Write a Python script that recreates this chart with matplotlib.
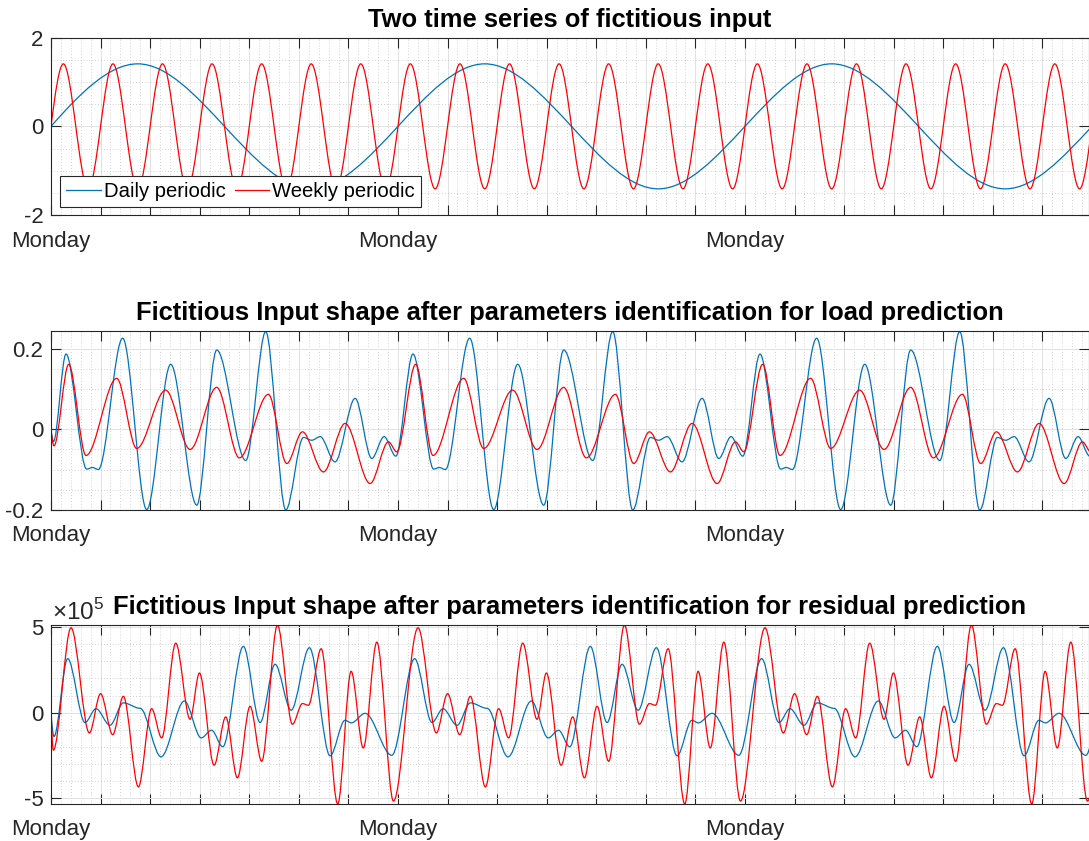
import numpy as np
import matplotlib
matplotlib.use('Agg')
import matplotlib.pyplot as plt
from matplotlib.path import Path
from matplotlib.patches import PathPatch
from matplotlib.lines import Line2D
from matplotlib.ticker import MultipleLocator, FixedLocator, FixedFormatter

plt.rcParams['font.family'] = ['Liberation Sans', 'DejaVu Sans']
plt.rcParams['axes.unicode_minus'] = False
plt.rcParams['mathtext.fontset'] = 'custom'
plt.rcParams['mathtext.rm'] = 'Liberation Sans'

# %% data (x in days from the first Monday)
x_end = 20.93
day_ticks = list(range(21))
day_labels = ['Monday' if d % 7 == 0 else '' for d in day_ticks]
legend_labels = ['Daily periodic', 'Weekly periodic']

# top panel: extrema over one period, curves start at 0
top_blue_period = 7
top_blue_x = [1.75, 5.25]
top_blue_y = [1.41, -1.41]
top_red_period = 1
top_red_x = [0.25, 0.75]
top_red_y = [1.41, -1.41]

# middle panel (load prediction): start transient + one week of extrema
load_blue_start_x = [0.0, 0.05]
load_blue_start_y = [0.0, -0.03]
load_blue_x = [0.303, 0.72, 0.834, 0.955, 1.446, 1.931, 2.415, 2.94, 3.343, 3.929,
               4.332, 4.736, 5.093, 5.26, 5.43, 5.73, 6.135, 6.471, 6.72, 6.956]
load_blue_y = [0.188, -0.099, -0.095, -0.1, 0.2275, -0.2, 0.1625, -0.189, 0.198, -0.0775,
               0.244, -0.201, -0.02, -0.027, -0.018, -0.081, 0.0775, -0.0725, -0.018, -0.0667]
load_red_start_x = [0.0, 0.06]
load_red_start_y = [0.0, -0.041]
load_red_x = [0.357, 0.706, 1.325, 1.729, 2.314, 2.805, 3.343, 3.80, 4.386, 4.756,
              5.072, 5.496, 5.933, 6.438, 6.808, 6.976]
load_red_y = [0.1625, -0.065, 0.1275, -0.0475, 0.098, -0.05, 0.105, -0.071, 0.0875, -0.085,
              -0.006, -0.106, 0.015, -0.135, -0.031, -0.056]

# bottom panel (residual prediction), values in units of 1e5
res_blue_start_x = [0.0, 0.06]
res_blue_start_y = [0.0, -1.4]
res_blue_x = [0.336, 0.686, 0.908, 1.19, 1.46, 1.8, 2.22, 2.69, 3.03, 3.24, 3.465,
              3.88, 4.218, 4.52, 4.844, 5.213, 5.63, 5.93, 6.06, 6.337, 6.875]
res_blue_y = [3.16, -0.58, 0.23, -0.74, 0.57, 0.25, -2.59, 0.68, -1.48, -1.03, -2.0,
              3.88, -0.58, 2.83, 0.14, 3.8, -2.53, -0.45, -0.6, -0.04, -2.5]
res_red_start_x = [0.0, 0.047]
res_red_start_y = [0.0, -2.2]
res_red_x = [0.404, 0.774, 1.0, 1.245, 1.46, 1.763, 2.03, 2.233, 2.516, 2.805, 2.994,
             3.29, 3.525, 3.76, 4.016, 4.25, 4.568, 4.87, 5.072, 5.193, 5.45, 5.785,
             6.055, 6.30, 6.573, 6.909]
res_red_y = [4.97, -1.19, 1.11, -1.29, 0.955, -4.35, 0.23, -1.48, 4.07, -0.39, 2.32,
             -3.08, -0.25, -3.82, 0.37, -2.85, 5.12, -0.68, 0.53, 0.43, 3.74, -5.35,
             2.42, -2.07, 4.13, -5.18]
res_scale = 1e5

blue = '#0072BD'
red = '#FF0000'
dark = '#262626'


# %%
def repeat_period(start_x, start_y, prof_x, prof_y, period):
    xs = list(start_x)
    ys = list(start_y)
    k = 0
    while k * period < x_end + period:
        xs += [x + k * period for x in prof_x]
        ys += list(prof_y)
        k += 1
    return np.array(xs), np.array(ys)


def smooth_path(xs, ys):
    # cubic segments with flat tangents at the read extrema
    verts = [(xs[0], ys[0])]
    codes = [Path.MOVETO]
    for i in range(len(xs) - 1):
        x0, y0, x1, y1 = xs[i], ys[i], xs[i + 1], ys[i + 1]
        dx = x1 - x0
        m0 = np.pi / 2 * (y1 - y0) / dx if i == 0 else 0.0
        verts += [(x0 + dx / 3, y0 + m0 * dx / 3), (x1 - dx / 3, y1), (x1, y1)]
        codes += [Path.CURVE4] * 3
    return Path(verts, codes)


def draw(ax, xs, ys, color):
    ax.add_patch(PathPatch(smooth_path(xs, ys), fill=False, edgecolor=color,
                           lw=0.9, joinstyle='round', capstyle='round'))


def style(ax, yticks, ylabels, yminor, ylim, title, xpad):
    ax.set_xlim(0, x_end)
    ax.set_ylim(*ylim)
    ax.xaxis.set_major_locator(FixedLocator(day_ticks))
    ax.xaxis.set_major_formatter(FixedFormatter(day_labels))
    ax.xaxis.set_minor_locator(MultipleLocator(0.2))
    ax.yaxis.set_major_locator(FixedLocator(yticks))
    ax.yaxis.set_major_formatter(FixedFormatter(ylabels))
    ax.yaxis.set_minor_locator(MultipleLocator(yminor))
    ax.grid(which='major', color='#e1e1e1', lw=0.7)
    ax.grid(which='minor', color='#c4c4c4', lw=0.6, ls=(0, (1, 2.5)))
    ax.set_axisbelow(True)
    ax.tick_params(which='major', direction='in', top=True, right=True, length=7.5,
                   width=0.8, color=dark, labelcolor=dark, labelsize=16)
    ax.tick_params(axis='x', which='major', pad=xpad)
    ax.tick_params(axis='y', which='major', pad=5.5)
    ax.tick_params(which='minor', length=0)
    for s in ax.spines.values():
        s.set_color(dark)
        s.set_linewidth(0.8)
    ax.set_title(title, fontsize=18.35, fontweight='bold', pad=7.8)


fig = plt.figure(figsize=(10.89, 8.41), dpi=100)
left = 51 / 1089
width = 1037.5 / 1089
ax1 = fig.add_axes([left, 1 - 215 / 841, width, 177.3 / 841])
ax2 = fig.add_axes([left, 1 - 510 / 841, width, 179 / 841])
ax3 = fig.add_axes([left, 1 - 804 / 841, width, 179 / 841])

# top
draw(ax1, *repeat_period([0.0], [0.0], top_blue_x, top_blue_y, top_blue_period), blue)
draw(ax1, *repeat_period([0.0], [0.0], top_red_x, top_red_y, top_red_period), red)
style(ax1, [-2, 0, 2], ['-2', '0', '2'], 0.5, (-2, 2),
      'Two time series of fictitious input', 11.5)
handles = [Line2D([], [], color=blue, lw=0.9), Line2D([], [], color=red, lw=0.9)]
leg = ax1.legend(handles, legend_labels, ncol=2, loc='lower left',
                 bbox_to_anchor=(0.0087, 0.045), borderaxespad=0, fontsize=14.6,
                 fancybox=False, framealpha=1, edgecolor=dark, borderpad=0.3,
                 handlelength=1.71, handletextpad=0.15, columnspacing=0.45)
leg.get_frame().set_linewidth(0.8)

# middle
draw(ax2, *repeat_period(load_blue_start_x, load_blue_start_y, load_blue_x, load_blue_y, 7), blue)
draw(ax2, *repeat_period(load_red_start_x, load_red_start_y, load_red_x, load_red_y, 7), red)
style(ax2, [-0.2, 0, 0.2], ['-0.2', '0', '0.2'], 0.05, (-0.201, 0.2455),
      'Fictitious Input shape after parameters identification for load prediction', 10.5)

# bottom
bx, by = repeat_period(res_blue_start_x, res_blue_start_y, res_blue_x, res_blue_y, 7)
rx, ry = repeat_period(res_red_start_x, res_red_start_y, res_red_x, res_red_y, 7)
draw(ax3, bx, by * res_scale, blue)
draw(ax3, rx, ry * res_scale, red)
style(ax3, [-5e5, 0, 5e5], ['-5', '0', '5'], 1e5, (-5.35e5, 5.13e5),
      'Fictitious Input shape after parameters identification for residual prediction', 10.5)
ax3.text(0.001, 1.026, r'$\times10^{5}$', transform=ax3.transAxes, fontsize=17.5,
         color=dark, ha='left', va='baseline')

fig.savefig('out.png', dpi=100)
